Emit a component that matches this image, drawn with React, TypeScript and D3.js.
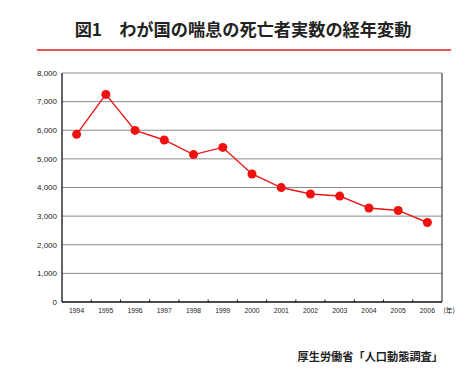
import React from "react";
import * as d3 from "d3";

const years = ["1994","1995","1996","1997","1998","1999","2000","2001","2002","2003","2004","2005","2006"];
const deaths = [5856, 7253, 5995, 5660, 5150, 5400, 4473, 3998, 3771, 3701, 3283, 3198, 2778];
const yTicks = [0, 1000, 2000, 3000, 4000, 5000, 6000, 7000, 8000];
const titleText = "図1\u3000わが国の喘息の死亡者実数の経年変動";
const sourceText = "厚生労働省「人口動態調査」";
const unitText = "(年)";

export default function App() {
  const W = 475, H = 375;
  const left = 62, right = 442, top = 73, bottom = 302;
  const x = d3.scaleBand<string>().domain(years).range([left, right]);
  const y = d3.scaleLinear().domain([0, 8000]).range([bottom, top]);
  const line = d3.line<number>()
    .x((_, i) => (x(years[i]) as number) + x.bandwidth() / 2)
    .y((d) => y(d));
  const fmt = d3.format(",");
  const jp = "'Noto Sans CJK JP', sans-serif";
  const num = "'Liberation Sans', Arial, sans-serif";
  return (
    <svg width={W} height={H} style={{ position: "absolute", left: 0, top: 0, background: "#fff" }}>
      <text x={243} y={36} textAnchor="middle" fontFamily={jp} fontWeight={700} fontSize={17.2} fill="#222">{titleText}</text>
      <line x1={37} x2={451} y1={50} y2={50} stroke="#e02020" strokeWidth={1.6} />
      {yTicks.map((t) => (
        <g key={t}>
          {t > 0 && <line x1={left} x2={right} y1={y(t)} y2={y(t)} stroke="#8a8a8a" strokeWidth={1} />}
          <text x={57} y={y(t)} dy="0.35em" textAnchor="end" fontFamily={num} fontSize={8} fill="#222">{fmt(t)}</text>
        </g>
      ))}
      <line x1={right} x2={right} y1={top} y2={bottom} stroke="#444" strokeWidth={1.2} />
      <line x1={left} x2={left} y1={top} y2={bottom} stroke="#111" strokeWidth={1.3} />
      <line x1={left} x2={right} y1={bottom} y2={bottom} stroke="#111" strokeWidth={1.3} />
      {years.slice(1).map((yr) => (
        <line key={yr} x1={x(yr) as number} x2={x(yr) as number} y1={bottom} y2={bottom - 2.5} stroke="#111" strokeWidth={1} />
      ))}
      {years.map((yr) => (
        <text key={yr} x={(x(yr) as number) + x.bandwidth() / 2} y={311} dy="0.35em" textAnchor="middle" fontFamily={num} fontSize={6.8} fill="#222">{yr}</text>
      ))}
      <text x={449} y={311} dy="0.35em" textAnchor="middle" fontFamily={jp} fontSize={7} fill="#222">{unitText}</text>
      <path d={line(deaths) as string} fill="none" stroke="#e81818" strokeWidth={1.4} />
      {deaths.map((d, i) => (
        <circle key={i} cx={(x(years[i]) as number) + x.bandwidth() / 2} cy={y(d)} r={4.5} fill="#f01010" />
      ))}
      <text x={443} y={357} dy="0.35em" textAnchor="end" fontFamily={jp} fontWeight={700} fontSize={11.2} fill="#222">{sourceText}</text>
    </svg>
  );
}
